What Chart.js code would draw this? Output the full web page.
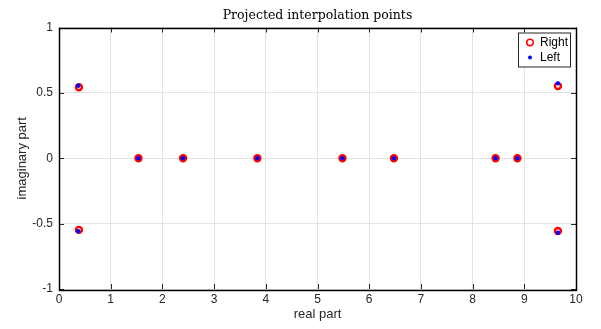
<!DOCTYPE html>
<html>
<head>
<meta charset="utf-8">
<script src="https://cdn.jsdelivr.net/npm/chart.js@4"></script>
<style>
  html, body { margin: 0; padding: 0; background: #fff; }
</style>
</head>
<body>
<canvas id="pointsChart" width="601" height="329"></canvas>
<script>
// values
var rightRe = [0.385, 0.385, 1.537, 2.40, 3.837, 5.483, 6.478, 8.445, 8.866, 9.65, 9.65];
var rightIm = [0.543, -0.548, 0, 0, 0, 0, 0, 0, 0, 0.553, -0.556];
var leftRe = [0.372, 0.372, 1.537, 2.40, 3.837, 5.483, 6.478, 8.445, 8.866, 9.65, 9.65];
var leftIm = [0.555, -0.558, 0, 0, 0, 0, 0, 0, 0, 0.573, -0.569];
var xTicks = [0, 1, 2, 3, 4, 5, 6, 7, 8, 9, 10];
var yTicks = [-1, -0.5, 0, 0.5, 1];
var titleText = 'Projected interpolation points';

function toPoints(re, im) {
  var pts = [];
  for (var i = 0; i < re.length; i++) {
    pts.push({x: re[i], y: im[i]});
  }
  return pts;
}

var textColor = '#262626';

// box round the axes, inward ticks, title over the plot and the legend
var boxPlugin = {
  id: 'boxPlugin',
  afterDraw: function (chart) {
    var ctx = chart.ctx;
    var a = chart.chartArea;
    var xs = chart.scales.x, ys = chart.scales.y;
    ctx.save();
    ctx.strokeStyle = '#262626';
    ctx.lineWidth = 1;
    var tl = 5;
    ctx.beginPath();
    xTicks.forEach(function (v) {
      var px = Math.round(xs.getPixelForValue(v)) + 0.5;
      ctx.moveTo(px, a.bottom); ctx.lineTo(px, a.bottom - tl);
      ctx.moveTo(px, a.top); ctx.lineTo(px, a.top + tl);
    });
    yTicks.forEach(function (v) {
      var py = Math.round(ys.getPixelForValue(v)) + 0.5;
      ctx.moveTo(a.left, py); ctx.lineTo(a.left + tl, py);
      ctx.moveTo(a.right, py); ctx.lineTo(a.right - tl, py);
    });
    ctx.stroke();
    ctx.strokeStyle = '#000';
    ctx.lineWidth = 1.5;
    ctx.strokeRect(Math.round(a.left) + 0.5, Math.round(a.top) + 0.5,
      Math.round(a.right - a.left), Math.round(a.bottom - a.top));

    // title, centred over the axes
    ctx.fillStyle = '#000';
    ctx.font = '12.5px "DejaVu Serif", "Liberation Serif", serif';
    ctx.textAlign = 'center';
    ctx.textBaseline = 'alphabetic';
    ctx.fillText(titleText, (a.left + a.right) / 2, a.top - 8.5);

    // legend
    var lx = a.right - 58, ly = a.top + 5, lw = 52, lh = 34;
    ctx.fillStyle = '#fff';
    ctx.fillRect(lx, ly, lw, lh);
    ctx.strokeStyle = '#262626';
    ctx.lineWidth = 1;
    ctx.strokeRect(lx + 0.5, ly + 0.5, lw, lh);
    ctx.beginPath();
    ctx.arc(lx + 12, ly + 10, 3.2, 0, Math.PI * 2);
    ctx.strokeStyle = '#ff0000';
    ctx.lineWidth = 1.5;
    ctx.stroke();
    ctx.beginPath();
    ctx.arc(lx + 12, ly + 25, 2, 0, Math.PI * 2);
    ctx.fillStyle = '#0000ff';
    ctx.fill();
    ctx.fillStyle = '#000';
    ctx.font = '12px "Liberation Sans", Arial, sans-serif';
    ctx.textBaseline = 'middle';
    ctx.textAlign = 'left';
    ctx.fillText('Right', lx + 22, ly + 10);
    ctx.fillText('Left', lx + 22, ly + 25);
    ctx.restore();
  }
};

var chart = new Chart(document.getElementById('pointsChart').getContext('2d'), {
  type: 'scatter',
  data: {
    datasets: [{
      label: 'Left',
      data: toPoints(leftRe, leftIm),
      pointRadius: 2.2,
      pointBorderWidth: 0,
      pointBackgroundColor: '#0000ff',
      pointBorderColor: '#0000ff'
    }, {
      label: 'Right',
      data: toPoints(rightRe, rightIm),
      pointRadius: 3,
      pointBorderWidth: 2.4,
      pointBackgroundColor: 'rgba(0,0,0,0)',
      pointBorderColor: '#ff0000'
    }]
  },
  options: {
    responsive: false,
    animation: false,
    layout: { padding: { left: 0, right: 25, top: 27.5, bottom: 0 } },
    plugins: {
      legend: { display: false },
      tooltip: { enabled: false },
      title: { display: false }
    },
    scales: {
      x: {
        type: 'linear',
        min: 0,
        max: 10,
        afterFit: function (s) { s.height = 40; },
        afterBuildTicks: function (s) { s.ticks = xTicks.map(function (v) { return {value: v}; }); },
        ticks: {
          color: textColor, padding: 3,
          font: { family: '"Liberation Sans", Arial, sans-serif', size: 12 },
          callback: function (v) { return String(v); }
        },
        grid: { color: '#e3e3e3', drawTicks: false },
        border: { display: false },
        title: {
          display: true,
          text: 'real part',
          color: textColor,
          font: { family: '"Liberation Sans", Arial, sans-serif', size: 13 },
          padding: { top: 0, bottom: 7 }
        }
      },
      y: {
        type: 'linear',
        min: -1,
        max: 1,
        afterFit: function (s) { s.width = 59; },
        afterBuildTicks: function (s) { s.ticks = yTicks.map(function (v) { return {value: v}; }); },
        ticks: {
          color: textColor, padding: 6,
          font: { family: '"Liberation Sans", Arial, sans-serif', size: 12 },
          callback: function (v) { return String(v); }
        },
        grid: { color: '#e3e3e3', drawTicks: false },
        border: { display: false },
        title: {
          display: true,
          text: 'imaginary part',
          color: textColor,
          font: { family: '"Liberation Sans", Arial, sans-serif', size: 13 },
          padding: { top: 15, bottom: 0 }
        }
      }
    }
  },
  plugins: [boxPlugin]
});
</script>
</body>
</html>
